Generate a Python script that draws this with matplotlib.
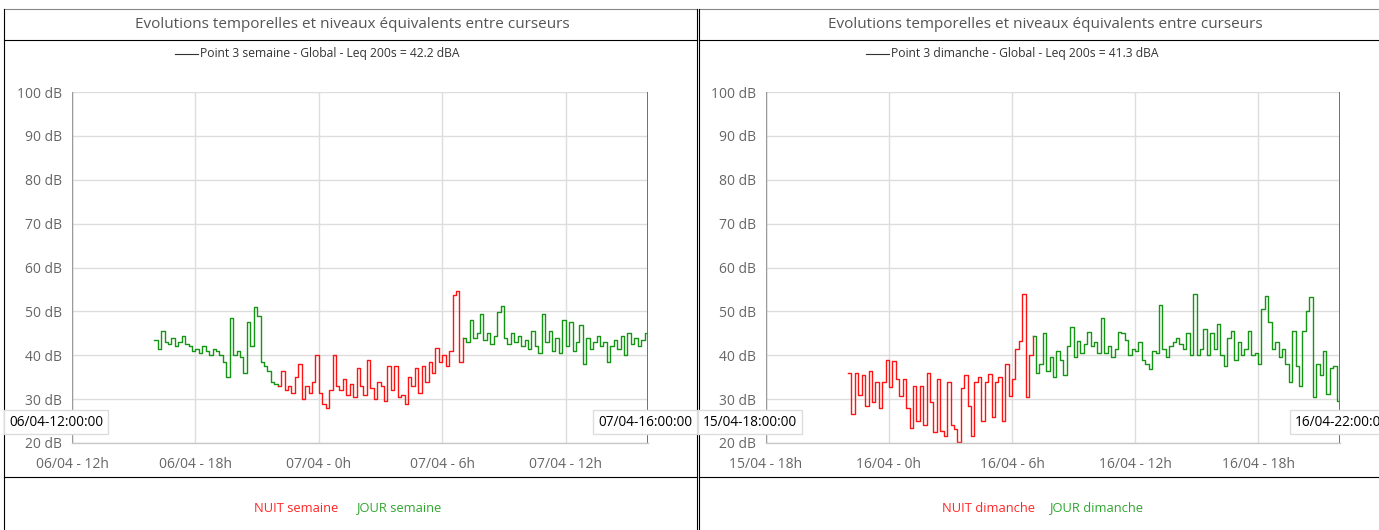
import numpy as np
import pandas as pd
import matplotlib
matplotlib.use('Agg')
import matplotlib.pyplot as plt
import matplotlib.dates as mdates
from matplotlib.lines import Line2D

plt.rcParams['font.family'] = ['Open Sans', 'DejaVu Sans']

W, H = 1379, 530

# ---- data : Leq (dBA), one value every 10 min ----
sem_start = '2024-04-06 16:00'
sem_jour1 = [43.5, 41.5, 45.5, 43, 42.5, 44,
             42, 43, 44.5, 42.5, 42, 41,
             41.5, 40.5, 42, 41, 40, 41.5,
             41, 40, 38.5, 35, 48.5, 40,
             41, 39.5, 36, 47.5, 42, 51,
             49, 38.5, 37.5, 36.5, 34, 33.5]
sem_nuit = [33, 36.5, 32, 33, 31.5, 35,
            38, 30, 33, 31.5, 34, 40,
            31.5, 29, 28, 32, 40, 33,
            32, 34.5, 31, 33.5, 30.5, 37,
            33, 31, 39, 32.5, 30, 34,
            33, 29.5, 37.5, 32, 37.5, 30.5,
            31, 28.8, 35, 33, 37, 31.5,
            37.5, 34, 38.5, 36, 41.7, 38.5,
            40, 37.5, 41, 53.7, 54.7, 38.5]
sem_jour2 = [44, 43, 48, 44, 45, 49.5,
             43.5, 45, 42.5, 44.5, 49.8, 51.3,
             44, 42.5, 45, 43, 44.5, 42,
             43.5, 41.5, 45.5, 42, 40.5, 49.5,
             43, 45.5, 41, 44, 40.5, 48,
             42, 47.5, 41, 43, 47, 38,
             44, 41.5, 43, 44.5, 42, 43,
             38.5, 42, 43.5, 41.5, 44.5, 40,
             45, 42.5, 44, 42, 43.5, 45]

dim_start = '2024-04-15 22:00'
dim_nuit = [36, 26.5, 36, 31, 35.5, 28.5,
            36.5, 29.3, 33.8, 28, 34, 39,
            32.7, 38.7, 34.6, 30.8, 34.6, 28,
            23.5, 33, 25, 33, 24, 36,
            29.3, 22.4, 34.6, 22.8, 21.6, 34,
            24, 23.2, 20.3, 32.5, 35.5, 28.5,
            21.6, 33.8, 35, 25, 33.8, 35.7,
            26, 33.8, 35, 25, 38, 30.8,
            34.6, 41.4, 43.3, 54, 30.4, 40]
dim_jour = [44.5, 36, 38, 45, 36.5, 39.5,
            35, 41, 39, 35.5, 42, 46.5,
            39.5, 43.3, 40.5, 42.5, 45.2, 42,
            43, 40.5, 48.4, 40.5, 42, 39.5,
            41.5, 45.2, 45, 43.5, 40, 41.5,
            41, 43, 39, 38, 36.8, 41,
            40.5, 51.4, 41.5, 39.5, 42, 43,
            44, 42.5, 41.5, 45, 40, 54,
            40, 41.5, 46, 40, 45, 41.5,
            47.1, 40, 37.6, 44, 45.5, 39,
            43, 40, 41.5, 45.5, 40, 40.5,
            38, 50.5, 53.6, 47.5, 41.5, 43,
            39.5, 41.5, 38, 34, 45.5, 37.5,
            33, 45.5, 50, 53.2, 30.4, 38,
            35.5, 41, 31.2, 37, 37.5, 29.6]

RED = '#ff1414'
GREEN = '#149614'
TXT_RED = '#ff2626'
TXT_GREEN = '#2ea62e'

panels = [
    dict(x0=4, x1=697, ax=(72, 648),
         start=sem_start, segs=[(sem_jour1, GREEN), (sem_nuit, RED), (sem_jour2, GREEN)],
         xmin='2024-04-06 12:00', xmax='2024-04-07 16:00',
         legend='Point 3 semaine - Global - Leq 200s = 42.2 dBA', leg_x=175,
         cur=('06/04-12:00:00', 56, '07/04-16:00:00', 645),
         bottom=(('NUIT semaine', 254, TXT_RED), ('JOUR semaine', 357, TXT_GREEN)),
         title_x=352),
    dict(x0=699, x1=1385, ax=(766, 1340),
         start=dim_start, segs=[(dim_nuit, RED), (dim_jour, GREEN)],
         xmin='2024-04-15 18:00', xmax='2024-04-16 22:00',
         legend='Point 3 dimanche - Global - Leq 200s = 41.3 dBA', leg_x=866,
         cur=('15/04-18:00:00', 750, '16/04-22:00:00', 1342),
         bottom=(('NUIT dimanche', 942, TXT_RED), ('JOUR dimanche', 1050, TXT_GREEN)),
         title_x=1045),
]

fig = plt.figure(figsize=(W / 100, H / 100), dpi=100)


def fx(x):
    return x / W


def fy(y):
    return 1 - y / H


def fline(xs, ys, color='black', lw=0.8):
    fig.add_artist(Line2D([fx(x) for x in xs], [fy(y) for y in ys],
                          transform=fig.transFigure, color=color, lw=lw))


def hour_fmt(v, pos=None):
    d = mdates.num2date(v)
    return f"{d:%d/%m} - {d.hour}h"


for p in panels:
    # frame of the panel
    fline([p['x0'], p['x1']], [9, 9], color='#888888')
    fline([p['x0'], p['x0']], [9, 540])
    fline([p['x1'], p['x1']], [9, 540])
    fline([p['x0'], p['x1']], [40, 40])
    fline([p['x0'], p['x1']], [477, 477])

    fig.text(fx(p['title_x']), fy(25), 'Evolutions temporelles et niveaux équivalents entre curseurs',
             ha='center', va='center', fontsize=11, color='#555555')

    a0, a1 = p['ax']
    ax = fig.add_axes([fx(a0), fy(443), fx(a1 - a0), (443 - 92) / H])

    vals = np.concatenate([np.asarray(s, float) for s, c in p['segs']])
    t = pd.date_range(p['start'], periods=len(vals), freq='10min')
    t = t.append(pd.DatetimeIndex([pd.Timestamp(p['xmax'])]))
    tn = mdates.date2num(t.to_pydatetime())
    vals = np.append(vals, vals[-1])
    i = 0
    for seg, color in p['segs']:
        j = i + len(seg)
        ax.step(tn[i:j + 1], vals[i:j + 1], where='post', color=color, lw=1.0)
        i = j

    xmin = mdates.date2num(pd.Timestamp(p['xmin']).to_pydatetime())
    xmax = mdates.date2num(pd.Timestamp(p['xmax']).to_pydatetime())
    ax.set_xlim(xmin, xmax)
    ax.set_ylim(20, 100)
    ax.set_yticks(range(20, 101, 10))
    ax.yaxis.set_major_formatter(plt.FuncFormatter(lambda v, pos: f"{int(v)} dB"))
    ax.xaxis.set_major_locator(mdates.HourLocator(byhour=[0, 6, 12, 18]))
    ax.xaxis.set_major_formatter(plt.FuncFormatter(hour_fmt))
    ax.tick_params(length=0, labelsize=10, colors='#666666')
    ax.tick_params(axis='y', pad=7)
    ax.tick_params(axis='x', pad=10)
    ax.grid(True, color='#dddddd', lw=1.0)
    ax.set_axisbelow(True)
    for s in ['top', 'right', 'left']:
        ax.spines[s].set_visible(False)
    ax.spines['bottom'].set_color('#c8c8c8')
    ax.spines['bottom'].set_linewidth(1.0)
    # cursors
    ax.axvline(xmin, color='#9a9a9a', lw=1.0)
    ax.axvline(xmax, color='#707070', lw=1.4)

    # legend line + text
    fline([p['leg_x'], p['leg_x'] + 23], [54, 54], color='#333333', lw=0.8)
    fig.text(fx(p['leg_x'] + 25), fy(54), p['legend'], ha='left', va='center',
             fontsize=8.7, color='#333333')

    # cursor labels
    l1, c1, l2, c2 = p['cur']
    for lab, cx in ((l1, c1), (l2, c2)):
        fig.text(fx(cx), fy(422), lab, ha='center', va='center', fontsize=9.8, color='black',
                 bbox=dict(boxstyle='square,pad=0.35', fc='white', ec='#dddddd', lw=1))

    for lab, bx, col in p['bottom']:
        fig.text(fx(bx), fy(508), lab, ha='left', va='center', fontsize=9.3, color=col)

fig.savefig('out.png', dpi=100)
